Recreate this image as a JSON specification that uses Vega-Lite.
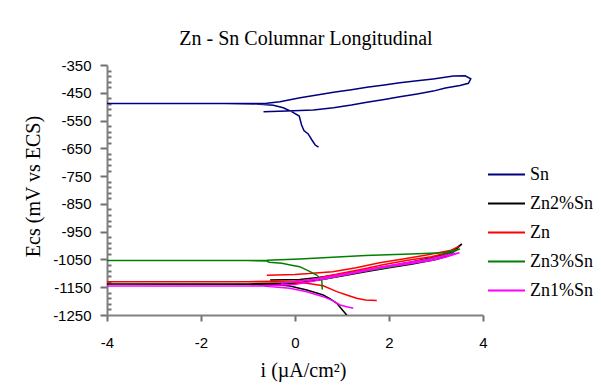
{
  "$schema": "https://vega.github.io/schema/vega-lite/v6.json",
  "width": 376,
  "height": 250,
  "autosize": {"type": "none"},
  "padding": {"left": 107, "top": 65, "right": 118, "bottom": 72},
  "background": "white",
  "config": {"view": {"stroke": null}},
  "title": {"text": "Zn - Sn Columnar Longitudinal", "font": "Liberation Serif", "fontSize": 20, "fontWeight": "normal", "color": "black", "anchor": "middle", "dx": 11, "dy": 24, "offset": 17, "baseline": "alphabetic"},
  "data": {"values": [
    {"s": "Sn", "n": 1, "x": 0.50, "y": -646},
    {"s": "Sn", "n": 2, "x": 0.43, "y": -638},
    {"s": "Sn", "n": 3, "x": 0.36, "y": -620},
    {"s": "Sn", "n": 4, "x": 0.28, "y": -598},
    {"s": "Sn", "n": 5, "x": 0.19, "y": -586},
    {"s": "Sn", "n": 6, "x": 0.14, "y": -566},
    {"s": "Sn", "n": 7, "x": 0.09, "y": -534},
    {"s": "Sn", "n": 8, "x": -0.07, "y": -518},
    {"s": "Sn", "n": 9, "x": -0.25, "y": -504},
    {"s": "Sn", "n": 10, "x": -0.46, "y": -495},
    {"s": "Sn", "n": 11, "x": -0.82, "y": -490},
    {"s": "Sn", "n": 12, "x": -1.5, "y": -489},
    {"s": "Sn", "n": 13, "x": -4, "y": -489},
    {"s": "Sn", "n": 14, "x": -1.5, "y": -489},
    {"s": "Sn", "n": 15, "x": -0.6, "y": -488},
    {"s": "Sn", "n": 16, "x": -0.32, "y": -482},
    {"s": "Sn", "n": 17, "x": 0.11, "y": -468},
    {"s": "Sn", "n": 18, "x": 0.5, "y": -457},
    {"s": "Sn", "n": 19, "x": 0.82, "y": -448},
    {"s": "Sn", "n": 20, "x": 1.2, "y": -439},
    {"s": "Sn", "n": 21, "x": 1.53, "y": -430},
    {"s": "Sn", "n": 22, "x": 1.9, "y": -422},
    {"s": "Sn", "n": 23, "x": 2.23, "y": -414},
    {"s": "Sn", "n": 24, "x": 2.6, "y": -407},
    {"s": "Sn", "n": 25, "x": 2.94, "y": -400},
    {"s": "Sn", "n": 26, "x": 3.37, "y": -390},
    {"s": "Sn", "n": 27, "x": 3.62, "y": -389},
    {"s": "Sn", "n": 28, "x": 3.74, "y": -400},
    {"s": "Sn", "n": 29, "x": 3.69, "y": -416},
    {"s": "Sn", "n": 30, "x": 3.51, "y": -424},
    {"s": "Sn", "n": 31, "x": 3.2, "y": -433},
    {"s": "Sn", "n": 32, "x": 2.94, "y": -444},
    {"s": "Sn", "n": 33, "x": 2.6, "y": -454},
    {"s": "Sn", "n": 34, "x": 2.23, "y": -464},
    {"s": "Sn", "n": 35, "x": 1.9, "y": -474},
    {"s": "Sn", "n": 36, "x": 1.53, "y": -484},
    {"s": "Sn", "n": 37, "x": 1.2, "y": -494},
    {"s": "Sn", "n": 38, "x": 0.82, "y": -504},
    {"s": "Sn", "n": 39, "x": 0.39, "y": -512},
    {"s": "Sn", "n": 40, "x": -0.18, "y": -516},
    {"s": "Sn", "n": 41, "x": -0.67, "y": -518},

    {"s": "Zn2%Sn", "n": 1, "x": 1.1, "y": -1250},
    {"s": "Zn2%Sn", "n": 2, "x": 1.0, "y": -1230},
    {"s": "Zn2%Sn", "n": 3, "x": 0.89, "y": -1208},
    {"s": "Zn2%Sn", "n": 4, "x": 0.75, "y": -1192},
    {"s": "Zn2%Sn", "n": 5, "x": 0.6, "y": -1178},
    {"s": "Zn2%Sn", "n": 6, "x": 0.25, "y": -1160},
    {"s": "Zn2%Sn", "n": 7, "x": -0.11, "y": -1146},
    {"s": "Zn2%Sn", "n": 8, "x": -0.5, "y": -1139},
    {"s": "Zn2%Sn", "n": 9, "x": -4, "y": -1138},
    {"s": "Zn2%Sn", "n": 10, "x": -1, "y": -1138},
    {"s": "Zn2%Sn", "n": 11, "x": 0, "y": -1136},
    {"s": "Zn2%Sn", "n": 12, "x": 0.5, "y": -1124},
    {"s": "Zn2%Sn", "n": 13, "x": 1, "y": -1110},
    {"s": "Zn2%Sn", "n": 14, "x": 1.5, "y": -1094},
    {"s": "Zn2%Sn", "n": 15, "x": 2, "y": -1080},
    {"s": "Zn2%Sn", "n": 16, "x": 2.5, "y": -1066},
    {"s": "Zn2%Sn", "n": 17, "x": 3, "y": -1050},
    {"s": "Zn2%Sn", "n": 18, "x": 3.3, "y": -1034},
    {"s": "Zn2%Sn", "n": 19, "x": 3.55, "y": -994},
    {"s": "Zn2%Sn", "n": 20, "x": 3.3, "y": -1026},
    {"s": "Zn2%Sn", "n": 21, "x": 3.0, "y": -1040},
    {"s": "Zn2%Sn", "n": 22, "x": 2.5, "y": -1058},
    {"s": "Zn2%Sn", "n": 23, "x": 2.0, "y": -1074},
    {"s": "Zn2%Sn", "n": 24, "x": 1.5, "y": -1088},
    {"s": "Zn2%Sn", "n": 25, "x": 1.0, "y": -1102},
    {"s": "Zn2%Sn", "n": 26, "x": 0.5, "y": -1115},
    {"s": "Zn2%Sn", "n": 27, "x": 0.1, "y": -1122},
    {"s": "Zn2%Sn", "n": 28, "x": -0.53, "y": -1124},

    {"s": "Zn", "n": 1, "x": 1.74, "y": -1198},
    {"s": "Zn", "n": 2, "x": 1.5, "y": -1196},
    {"s": "Zn", "n": 3, "x": 1.31, "y": -1190},
    {"s": "Zn", "n": 4, "x": 1.1, "y": -1178},
    {"s": "Zn", "n": 5, "x": 0.89, "y": -1166},
    {"s": "Zn", "n": 6, "x": 0.6, "y": -1145},
    {"s": "Zn", "n": 7, "x": 0.25, "y": -1136},
    {"s": "Zn", "n": 8, "x": -0.2, "y": -1131},
    {"s": "Zn", "n": 9, "x": -1, "y": -1130},
    {"s": "Zn", "n": 10, "x": -4, "y": -1130},
    {"s": "Zn", "n": 11, "x": -1, "y": -1130},
    {"s": "Zn", "n": 12, "x": 0, "y": -1128},
    {"s": "Zn", "n": 13, "x": 0.3, "y": -1124},
    {"s": "Zn", "n": 14, "x": 0.8, "y": -1106},
    {"s": "Zn", "n": 15, "x": 1.4, "y": -1086},
    {"s": "Zn", "n": 16, "x": 1.9, "y": -1068},
    {"s": "Zn", "n": 17, "x": 2.4, "y": -1053},
    {"s": "Zn", "n": 18, "x": 2.9, "y": -1040},
    {"s": "Zn", "n": 19, "x": 3.2, "y": -1028},
    {"s": "Zn", "n": 20, "x": 3.5, "y": -1002},
    {"s": "Zn", "n": 21, "x": 3.3, "y": -1018},
    {"s": "Zn", "n": 22, "x": 2.8, "y": -1034},
    {"s": "Zn", "n": 23, "x": 2.3, "y": -1048},
    {"s": "Zn", "n": 24, "x": 1.8, "y": -1062},
    {"s": "Zn", "n": 25, "x": 1.3, "y": -1080},
    {"s": "Zn", "n": 26, "x": 0.8, "y": -1094},
    {"s": "Zn", "n": 27, "x": 0.3, "y": -1101},
    {"s": "Zn", "n": 28, "x": 0.0, "y": -1104},
    {"s": "Zn", "n": 29, "x": -0.6, "y": -1107},

    {"s": "Zn3%Sn", "n": 1, "x": 0.58, "y": -1158},
    {"s": "Zn3%Sn", "n": 2, "x": 0.57, "y": -1124},
    {"s": "Zn3%Sn", "n": 3, "x": 0.46, "y": -1106},
    {"s": "Zn3%Sn", "n": 4, "x": 0.32, "y": -1094},
    {"s": "Zn3%Sn", "n": 5, "x": 0.1, "y": -1076},
    {"s": "Zn3%Sn", "n": 6, "x": -0.1, "y": -1070},
    {"s": "Zn3%Sn", "n": 7, "x": -0.28, "y": -1064},
    {"s": "Zn3%Sn", "n": 8, "x": -0.55, "y": -1060},
    {"s": "Zn3%Sn", "n": 9, "x": -0.6, "y": -1056},
    {"s": "Zn3%Sn", "n": 10, "x": -1, "y": -1054},
    {"s": "Zn3%Sn", "n": 11, "x": -4, "y": -1054},
    {"s": "Zn3%Sn", "n": 12, "x": -1, "y": -1054},
    {"s": "Zn3%Sn", "n": 13, "x": -0.6, "y": -1053},
    {"s": "Zn3%Sn", "n": 14, "x": 0.1, "y": -1048},
    {"s": "Zn3%Sn", "n": 15, "x": 0.8, "y": -1042},
    {"s": "Zn3%Sn", "n": 16, "x": 1.5, "y": -1036},
    {"s": "Zn3%Sn", "n": 17, "x": 2.45, "y": -1030},
    {"s": "Zn3%Sn", "n": 18, "x": 3.16, "y": -1026},
    {"s": "Zn3%Sn", "n": 19, "x": 3.51, "y": -1012},
    {"s": "Zn3%Sn", "n": 20, "x": 3.3, "y": -1028},
    {"s": "Zn3%Sn", "n": 21, "x": 3.0, "y": -1044},
    {"s": "Zn3%Sn", "n": 22, "x": 2.5, "y": -1062},
    {"s": "Zn3%Sn", "n": 23, "x": 2.0, "y": -1078},
    {"s": "Zn3%Sn", "n": 24, "x": 1.5, "y": -1092},
    {"s": "Zn3%Sn", "n": 25, "x": 1.0, "y": -1108},
    {"s": "Zn3%Sn", "n": 26, "x": 0.6, "y": -1122},

    {"s": "Zn1%Sn", "n": 1, "x": 1.24, "y": -1226},
    {"s": "Zn1%Sn", "n": 2, "x": 1.1, "y": -1220},
    {"s": "Zn1%Sn", "n": 3, "x": 0.96, "y": -1214},
    {"s": "Zn1%Sn", "n": 4, "x": 0.8, "y": -1198},
    {"s": "Zn1%Sn", "n": 5, "x": 0.6, "y": -1184},
    {"s": "Zn1%Sn", "n": 6, "x": 0.25, "y": -1166},
    {"s": "Zn1%Sn", "n": 7, "x": -0.11, "y": -1154},
    {"s": "Zn1%Sn", "n": 8, "x": -0.67, "y": -1146},
    {"s": "Zn1%Sn", "n": 9, "x": -4, "y": -1146},
    {"s": "Zn1%Sn", "n": 10, "x": -1, "y": -1146},
    {"s": "Zn1%Sn", "n": 11, "x": 0, "y": -1140},
    {"s": "Zn1%Sn", "n": 12, "x": 0.4, "y": -1128},
    {"s": "Zn1%Sn", "n": 13, "x": 0.8, "y": -1114},
    {"s": "Zn1%Sn", "n": 14, "x": 1.4, "y": -1094},
    {"s": "Zn1%Sn", "n": 15, "x": 1.9, "y": -1078},
    {"s": "Zn1%Sn", "n": 16, "x": 2.4, "y": -1066},
    {"s": "Zn1%Sn", "n": 17, "x": 2.9, "y": -1054},
    {"s": "Zn1%Sn", "n": 18, "x": 3.2, "y": -1042},
    {"s": "Zn1%Sn", "n": 19, "x": 3.5, "y": -1026},
    {"s": "Zn1%Sn", "n": 20, "x": 3.3, "y": -1032},
    {"s": "Zn1%Sn", "n": 21, "x": 2.8, "y": -1050},
    {"s": "Zn1%Sn", "n": 22, "x": 2.3, "y": -1064},
    {"s": "Zn1%Sn", "n": 23, "x": 1.8, "y": -1078},
    {"s": "Zn1%Sn", "n": 24, "x": 1.3, "y": -1094},
    {"s": "Zn1%Sn", "n": 25, "x": 0.8, "y": -1110},
    {"s": "Zn1%Sn", "n": 26, "x": 0.3, "y": -1124},
    {"s": "Zn1%Sn", "n": 27, "x": -0.3, "y": -1136}
  ]},
  "mark": {"type": "line", "strokeWidth": 1.5, "clip": true},
  "encoding": {
    "x": {
      "field": "x", "type": "quantitative",
      "scale": {"domain": [-4, 4], "nice": false, "zero": false},
      "axis": {
        "title": "i (µA/cm²)",
        "values": [-4, -2, 0, 2, 4],
        "labelExpr": "'' + datum.value",
        "labelFont": "Liberation Sans", "labelFontSize": 15, "labelColor": "black",
        "labelPadding": 14, "labelFlush": false,
        "ticks": true, "tickSize": 6, "tickColor": "#707070", "tickWidth": 2,
        "domainColor": "#808080", "domainWidth": 2,
        "grid": false,
        "titleFont": "Liberation Serif", "titleFontSize": 20, "titleFontWeight": "normal", "titleColor": "black",
        "titleX": 196, "titleY": 55, "titleBaseline": "middle", "titleAlign": "center"
      }
    },
    "y": {
      "field": "y", "type": "quantitative",
      "scale": {"domain": [-1250, -350], "nice": false, "zero": false},
      "axis": {
        "title": "Ecs (mV vs ECS)",
        "values": [-350, -370, -390, -410, -430, -450, -470, -490, -510, -530, -550, -570, -590, -610, -630, -650, -670, -690, -710, -730, -750, -770, -790, -810, -830, -850, -870, -890, -910, -930, -950, -970, -990, -1010, -1030, -1050, -1070, -1090, -1110, -1130, -1150, -1170, -1190, -1210, -1230, -1250],
        "labelExpr": "(datum.value + 350) % 100 == 0 ? '' + datum.value : ''",
        "labelOverlap": false, "labelFlush": false,
        "labelFont": "Liberation Sans", "labelFontSize": 15, "labelColor": "black",
        "labelPadding": 9,
        "ticks": true,
        "tickSize": {"condition": {"test": "(datum.value + 350) % 100 == 0", "value": 7}, "value": -4},
        "tickColor": "#707070", "tickWidth": 2,
        "domainColor": "#808080", "domainWidth": 2,
        "grid": false,
        "titleFont": "Liberation Serif", "titleFontSize": 20, "titleFontWeight": "normal", "titleColor": "black",
        "titleX": -74, "titleY": 121, "titleAngle": -90, "titleBaseline": "middle", "titleAlign": "center"
      }
    },
    "color": {
      "field": "s", "type": "nominal",
      "scale": {"domain": ["Sn", "Zn2%Sn", "Zn", "Zn3%Sn", "Zn1%Sn"], "range": ["#000080", "#000000", "#ff0000", "#008000", "#ff00ff"]},
      "legend": {
        "orient": "none", "legendX": 380, "legendY": 90,
        "title": null, "padding": 0,
        "symbolType": "stroke", "symbolSize": 1369, "symbolStrokeWidth": 2,
        "labelFont": "Liberation Serif", "labelFontSize": 18, "labelColor": "black",
        "labelOffset": 4, "rowPadding": -1
      }
    },
    "order": {"field": "n", "type": "quantitative"}
  }
}
